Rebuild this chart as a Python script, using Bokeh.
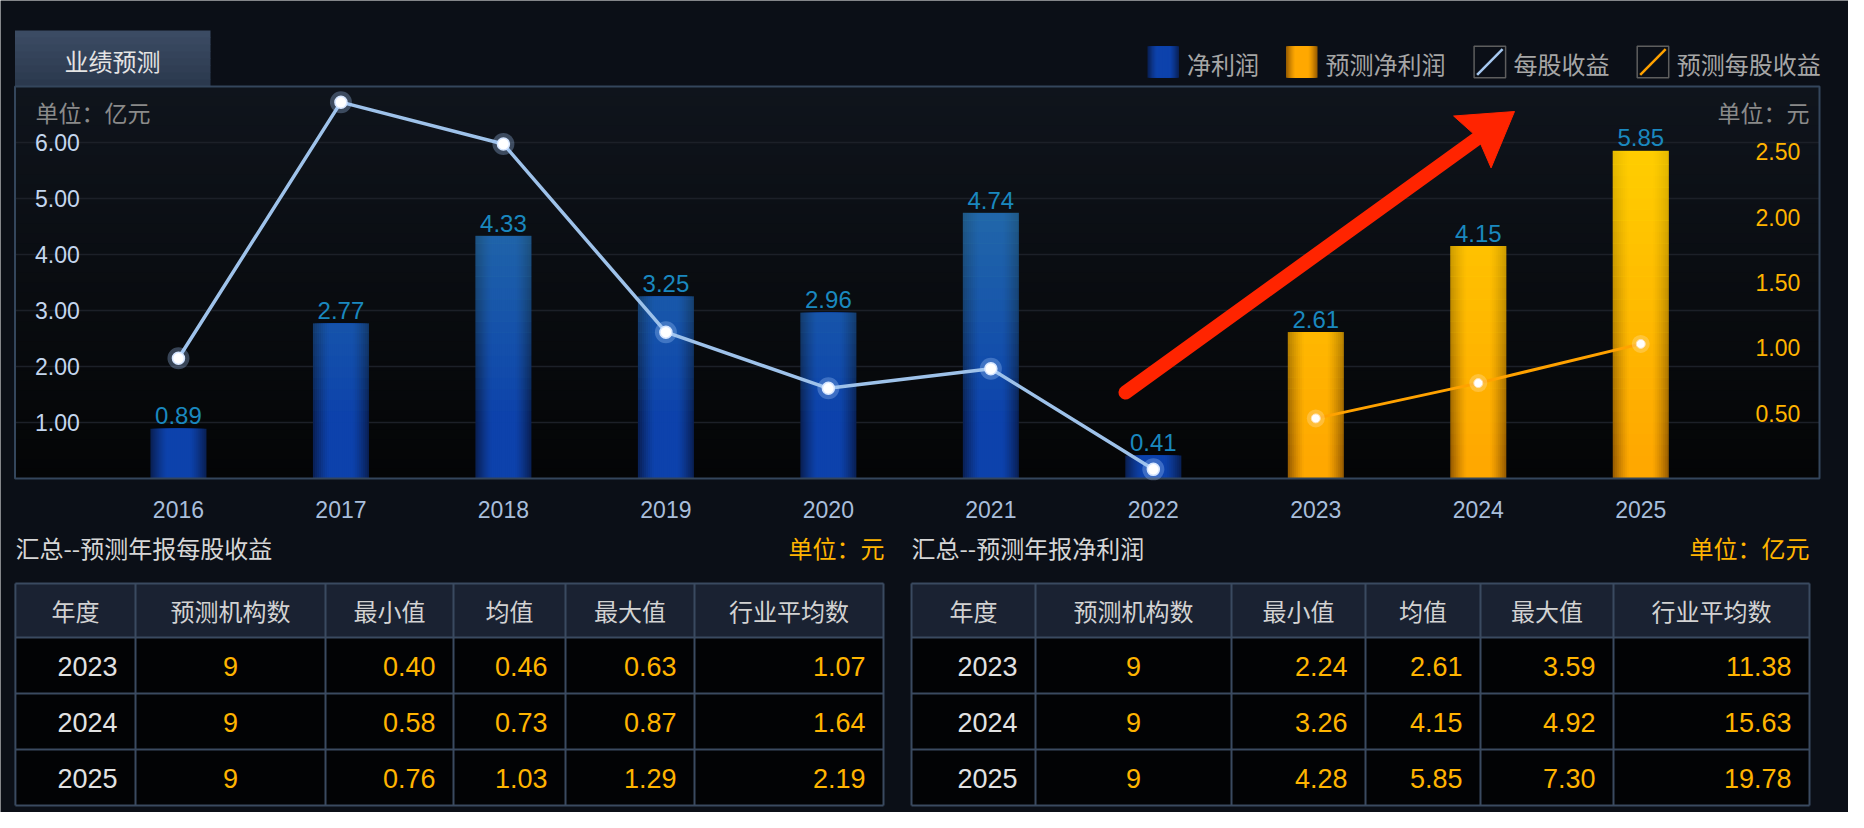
import math
import numpy as np
from bokeh.plotting import figure
from bokeh.models import Range1d, Grid
from bokeh.embed import file_html
from bokeh.resources import INLINE
from bokeh.core.properties import value

# ---------------- data ----------------
years = [2016, 2017, 2018, 2019, 2020, 2021, 2022, 2023, 2024, 2025]
net_profit = [0.89, 2.77, 4.33, 3.25, 2.96, 4.74, 0.41, 2.61, 4.15, 5.85]   # 亿元
eps = [0.92, 2.88, 2.56, 1.12, 0.69, 0.84, 0.07, 0.46, 0.73, 1.03]          # 元
first_forecast_year = 2023
left_ticks = [1, 2, 3, 4, 5, 6]
right_ticks = [0.5, 1.0, 1.5, 2.0, 2.5]
legend_labels = ["净利润", "预测净利润", "每股收益", "预测每股收益"]

table_headers = ["年度", "预测机构数", "最小值", "均值", "最大值", "行业平均数"]
table_years = ["2023", "2024", "2025"]
eps_count = [9, 9, 9]
eps_min = [0.40, 0.58, 0.76]
eps_mean = [0.46, 0.73, 1.03]
eps_max = [0.63, 0.87, 1.29]
eps_industry = [1.07, 1.64, 2.19]
np_count = [9, 9, 9]
np_min = [2.24, 3.26, 4.28]
np_mean = [2.61, 4.15, 5.85]
np_max = [3.59, 4.92, 7.30]
np_industry = [11.38, 15.63, 19.78]

# ---------------- layout ----------------
W, H = 1848, 812
FX0, FX1, FY0, FY1 = 14.5, 1819.0, 86.0, 478.0
X_LO, X_HI = 2014.994, 2026.1
Y_LO, Y_HI = 0.0, 7.0
R_LO, R_HI = 0.0, 3.0

sx = (FX1 - FX0) / (X_HI - X_LO)
sy = (FY1 - FY0) / (Y_HI - Y_LO)
sr = (FY1 - FY0) / (R_HI - R_LO)

BG = "#0b0f17"
CJK = value("Noto Sans CJK SC")
NUM = value("Liberation Sans")

p = figure(width=W, height=H,
           x_range=Range1d(X_LO - FX0 / sx, X_HI + (W - FX1) / sx),
           y_range=Range1d(Y_LO - (H - FY1) / sy, Y_HI + FY0 / sy),
           output_backend="svg", toolbar_location=None,
           x_axis_location=None, y_axis_location=None,
           min_border=0, min_border_left=0, min_border_right=0,
           min_border_top=0, min_border_bottom=0,
           background_fill_color=BG, border_fill_color=BG,
           outline_line_color=None)
for r in list(p.center):
    if isinstance(r, Grid):
        r.visible = False
p.center = [r for r in p.center if not isinstance(r, Grid)]

p.extra_x_ranges = {"px": Range1d(0, W)}
p.extra_y_ranges = {"px": Range1d(H, 0),
                    "eps": Range1d(R_LO - (H - FY1) / sr, R_HI + FY0 / sr)}
PX = dict(x_range_name="px", y_range_name="px")


def hex2rgb(h):
    h = h.lstrip("#")
    return tuple(int(h[i:i + 2], 16) for i in (0, 2, 4))


def mix(a, b, t):
    ra, rb = hex2rgb(a), hex2rgb(b)
    return "#%02x%02x%02x" % tuple(int(round(ra[i] + (rb[i] - ra[i]) * t)) for i in range(3))


def txt(x, y, s, size, color, align="left", baseline="middle", font=CJK, xr="px", yr="px"):
    p.text(x=x, y=y, text=s, text_font=font, text_font_size=f"{size}px",
           text_color=color, text_align=align, text_baseline=baseline,
           x_range_name=xr, y_range_name=yr)


def edge_k(t):
    return 0.0 if t < 0.4 else ((t - 0.4) / 0.6) ** 1.3


BLUE_C, BLUE_E = "#0d42ac", "#091e50"
ORG_C, ORG_E = "#ffa800", "#925800"

# ---------------- tab ----------------
nb = 8
tb = np.linspace(30, 86, nb + 1)
p.quad(left=14.5, right=210, top=tb[:-1], bottom=tb[1:] + 0.6,
       fill_color=[mix("#3b4b63", "#2b394e", k / (nb - 1)) for k in range(nb)],
       line_color=None, **PX)
txt([112], [60], ["业绩预测"], 24, "#e4e4e4", align="center")

# ---------------- plot area background ----------------
nb = 40
eb = np.linspace(FY0, FY1, nb + 1)
p.quad(left=FX0, right=FX1, top=eb[:-1], bottom=eb[1:] + 0.6,
       fill_color=[mix("#0f141c", "#040506", k / (nb - 1)) for k in range(nb)],
       line_color=None, **PX)

# grid lines (left axis ticks)
p.segment(x0=FX0, x1=FX1, y0=left_ticks, y1=left_ticks, line_color="#1c2028",
          line_width=1.5, x_range_name="px")

# ---------------- bars ----------------
is_fc = [y >= first_forecast_year for y in years]
BAR_W = 56.0 / sx
NL = 14
for j in range(NL):
    f = 1 - j / NL
    k = edge_k(f - 0.5 / NL)
    cols = [mix(ORG_C, ORG_E, k) if fc else mix(BLUE_C, BLUE_E, k) for fc in is_fc]
    p.vbar(x=years, top=net_profit, bottom=0, width=BAR_W * f,
           fill_color=cols, line_color=None)

# vertical tint (absolute height)
xs, bots, tops, cols, alphas = [], [], [], [], []
band = 0.2
for x, v, fc in zip(years, net_profit, is_fc):
    b = 0.0
    while b < v - 1e-9:
        tp = min(b + band, v)
        ym = (b + tp) / 2
        if fc:
            a = float(np.clip((ym - 0.3) / 5.7, 0, 1)) * 0.8
            c = "#ffd800"
        else:
            a = float(np.clip((ym - 1.0) / 3.7, 0, 1)) * 0.6
            c = "#2f80a8"
        xs.append(x); bots.append(b); tops.append(tp + 0.004); cols.append(c); alphas.append(a)
        b = tp
p.vbar(x=xs, bottom=bots, top=tops, width=BAR_W, fill_color=cols,
       fill_alpha=alphas, line_color=None)

# frame border
p.quad(left=FX0, right=FX1, top=FY0, bottom=FY1, fill_color=None,
       line_color="#34465c", line_width=2, **PX)

# ---------------- EPS lines ----------------
act = [i for i, fc in enumerate(is_fc) if not fc]
fct = [i for i, fc in enumerate(is_fc) if fc]
ax_ = [years[i] for i in act]; ay_ = [eps[i] for i in act]
fx_ = [years[i] for i in fct]; fy_ = [eps[i] for i in fct]
p.line(ax_, ay_, y_range_name="eps", line_color="#9ec2ea", line_width=3.5)
p.scatter(ax_, ay_, y_range_name="eps", size=22, fill_color="#a8ccff",
          fill_alpha=0.3, line_color=None)
p.scatter(ax_, ay_, y_range_name="eps", size=12, fill_color="#ffffff",
          line_color="#d6e6ff", line_width=1.5)
p.line(fx_, fy_, y_range_name="eps", line_color="#ffa200", line_width=3)
p.scatter(fx_, fy_, y_range_name="eps", size=18, fill_color="#ffe0a0",
          fill_alpha=0.35, line_color=None)
p.scatter(fx_, fy_, y_range_name="eps", size=9, fill_color="#ffffff",
          line_color="#ffe0b0", line_width=1)

# value labels
gap = 13.0 / sy
txt(years, [v + gap for v in net_profit], [f"{v:.2f}" for v in net_profit], 24,
    "#1a88bf", align="center", baseline="alphabetic", font=NUM, xr="default", yr="default")

# axis tick labels
txt([34.5] * len(left_ticks), left_ticks, [f"{t:.2f}" for t in left_ticks], 23,
    "#c4d6ee", font=NUM, xr="px", yr="default")
txt([1755] * len(right_ticks), right_ticks, [f"{t:.2f}" for t in right_ticks], 23,
    "#ffb400", font=NUM, xr="px", yr="eps")
txt(years, [509] * len(years), [str(y) for y in years], 23, "#a8bedc",
    align="center", font=NUM, xr="default", yr="px")

# unit labels
txt([35], [111], ["单位：亿元"], 23, "#8a8a8a")
txt([1809], [111], ["单位：元"], 23, "#8a8a8a", align="right")

# ---------------- legend ----------------
LY0, LY1 = 45.7, 77.3
leg_x = [1147.0, 1285.5, 1473.6, 1636.7]
BOX = 31.5
for idx, (c0, ce) in enumerate([(BLUE_C, BLUE_E), (ORG_C, ORG_E)]):
    x0 = leg_x[idx]
    for j in range(NL):
        f = 1 - j / NL
        k = edge_k(f - 0.5 / NL)
        cx = x0 + BOX / 2
        p.quad(left=cx - BOX / 2 * f, right=cx + BOX / 2 * f, top=LY0, bottom=LY1,
               fill_color=mix(c0, ce, k), line_color=None, **PX)
for idx, lc in [(2, "#a6c8f0"), (3, "#ffa200")]:
    x0 = leg_x[idx]
    p.quad(left=x0, right=x0 + BOX, top=LY0, bottom=LY1, fill_color=None,
           line_color="#5e5e5e", line_width=1.5, **PX)
    p.segment(x0=x0 + 3, y0=LY1 - 3, x1=x0 + BOX - 3, y1=LY0 + 3, line_color=lc,
              line_width=2.5, **PX)
txt([x + BOX + 8 for x in leg_x], [63] * 4, legend_labels, 24, "#a6a6a6")

# ---------------- tables ----------------
ROWS_Y = [583, 637, 693, 749, 805]
T1_COLS = [14.9, 135, 325, 453, 565, 694, 883]
T2_COLS = [911, 1035, 1231, 1365, 1480, 1613, 1809]
LINEC = "#3a4a60"
ORANGE = "#ffb400"


def draw_table(cols, columns):
    p.quad(left=cols[0], right=cols[-1], top=ROWS_Y[0], bottom=ROWS_Y[1],
           fill_color="#1a2232", line_color=None, **PX)
    p.quad(left=cols[0], right=cols[-1], top=ROWS_Y[1], bottom=ROWS_Y[-1],
           fill_color="#020305", line_color=None, **PX)
    p.segment(x0=cols, x1=cols, y0=ROWS_Y[0], y1=ROWS_Y[-1], line_color=LINEC,
              line_width=2, **PX)
    p.segment(x0=cols[0], x1=cols[-1], y0=ROWS_Y, y1=ROWS_Y, line_color=LINEC,
              line_width=2, **PX)
    centers = [(a + b) / 2 for a, b in zip(cols[:-1], cols[1:])]
    hy = (ROWS_Y[0] + ROWS_Y[1]) / 2
    txt(centers, [hy] * len(centers), table_headers, 24, "#d2d2d2", align="center")
    rys = [(ROWS_Y[r] + ROWS_Y[r + 1]) / 2 + 1 for r in range(1, 4)]
    txt([cols[1] - 18] * 3, rys, columns[0], 27, "#e2e2e2", align="right", font=NUM)
    txt([centers[1]] * 3, rys, [str(c) for c in columns[1]], 27, ORANGE,
        align="center", font=NUM)
    for ci in range(2, 6):
        txt([cols[ci + 1] - 18] * 3, rys, [f"{v:.2f}" for v in columns[ci]], 27, ORANGE,
            align="right", font=NUM)


draw_table(T1_COLS, [table_years, eps_count, eps_min, eps_mean, eps_max, eps_industry])
draw_table(T2_COLS, [table_years, np_count, np_min, np_mean, np_max, np_industry])

txt([15], [547], ["汇总--预测年报每股收益"], 24, "#d6d6d6")
txt([884], [547], ["单位：元"], 24, ORANGE, align="right")
txt([911], [547], ["汇总--预测年报净利润"], 24, "#d6d6d6")
txt([1809], [547], ["单位：亿元"], 24, ORANGE, align="right")
txt([14], [807], ["预测数据根据各机构发布的研究报告摘录所得，与本终端立场无关"], 24,
    "#9a9a9a", baseline="top")

# ---------------- red annotation arrow ----------------
ARROW_TAIL = (1125.0, 392.0)
ARROW_TIP = (1514.0, 111.0)
RED = "#ff2400"
ax0, ay0 = ARROW_TAIL
bx, by = ARROW_TIP
L = math.hypot(bx - ax0, by - ay0)
ux, uy = (bx - ax0) / L, (by - ay0) / L
nx, ny = -uy, ux
HL, HW = 52.0, 32.0
basex, basey = bx - ux * HL, by - uy * HL
notchx, notchy = bx - ux * (HL - 7), by - uy * (HL - 7)
p.line([ax0, notchx], [ay0, notchy], line_color=RED, line_width=14,
       line_cap="round", **PX)
p.patch([bx, basex + nx * HW, notchx, basex - nx * HW],
        [by, basey + ny * HW, notchy, basey - ny * HW],
        fill_color=RED, line_color=RED, line_width=1, **PX)

open("out.html", "w").write(file_html(p, INLINE))
